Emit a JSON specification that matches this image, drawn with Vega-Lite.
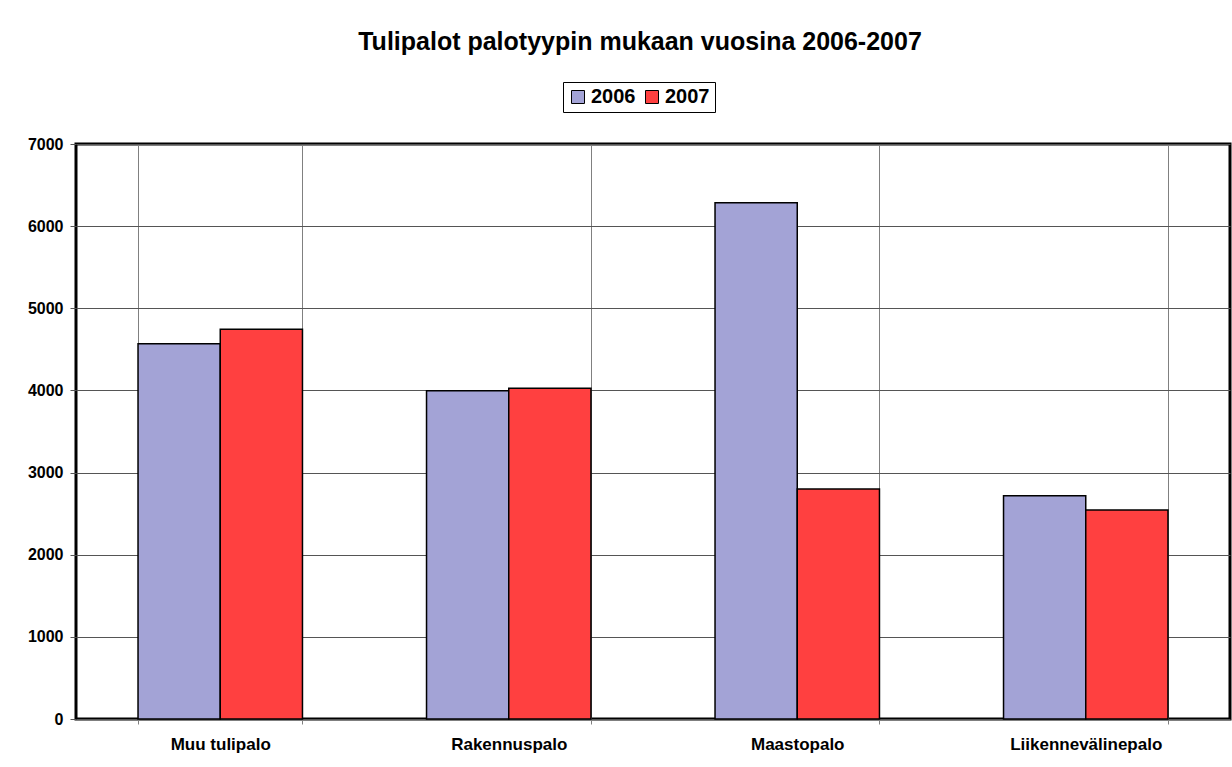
{
  "$schema": "https://vega.github.io/schema/vega-lite/v6.json",
  "autosize": "none",
  "width": 1154,
  "height": 575,
  "padding": {"left": 76, "top": 144, "right": 2, "bottom": 48},
  "background": "white",
  "title": {
    "text": "Tulipalot palotyypin mukaan vuosina 2006-2007",
    "font": "Liberation Sans",
    "fontSize": 25,
    "fontWeight": "bold",
    "color": "black",
    "anchor": "middle",
    "frame": "group",
    "dx": -13,
    "offset": 27
  },
  "data": {
    "values": [
      {"tyyppi": "Muu tulipalo", "vuosi": "2006", "maara": 4569},
      {"tyyppi": "Muu tulipalo", "vuosi": "2007", "maara": 4745},
      {"tyyppi": "Rakennuspalo", "vuosi": "2006", "maara": 3995},
      {"tyyppi": "Rakennuspalo", "vuosi": "2007", "maara": 4028},
      {"tyyppi": "Maastopalo", "vuosi": "2006", "maara": 6286},
      {"tyyppi": "Maastopalo", "vuosi": "2007", "maara": 2800},
      {"tyyppi": "Liikennevälinepalo", "vuosi": "2006", "maara": 2719},
      {"tyyppi": "Liikennevälinepalo", "vuosi": "2007", "maara": 2544}
    ]
  },
  "mark": {"type": "bar", "stroke": "black", "strokeWidth": 1.5},
  "encoding": {
    "x": {
      "field": "tyyppi",
      "type": "nominal",
      "sort": ["Muu tulipalo", "Rakennuspalo", "Maastopalo", "Liikennevälinepalo"],
      "scale": {"paddingInner": 0.43, "paddingOuter": 0.215},
      "axis": {
        "title": null,
        "labelAngle": 0,
        "labelFont": "Liberation Sans",
        "labelFontSize": 17,
        "labelFontWeight": "bold",
        "labelColor": "black",
        "labelPadding": 12,
        "tickBand": "extent",
        "grid": true,
        "gridColor": "#808080",
        "gridWidth": 1,
        "ticks": true,
        "tickColor": "#808080",
        "tickSize": 5,
        "domain": false
      }
    },
    "xOffset": {"field": "vuosi", "type": "nominal", "scale": {"paddingInner": 0, "paddingOuter": 0}},
    "y": {
      "field": "maara",
      "type": "quantitative",
      "scale": {"domain": [0, 7000], "nice": false},
      "axis": {
        "title": null,
        "format": "d",
        "values": [0, 1000, 2000, 3000, 4000, 5000, 6000, 7000],
        "labelFont": "Liberation Sans",
        "labelFontSize": 16,
        "labelFontWeight": "bold",
        "labelColor": "black",
        "labelPadding": 7,
        "grid": true,
        "gridColor": "#555555",
        "gridWidth": 1,
        "tickColor": "#555555",
        "tickSize": 6,
        "domain": false
      }
    },
    "color": {
      "field": "vuosi",
      "type": "nominal",
      "scale": {"domain": ["2006", "2007"], "range": ["#a3a3d6", "#ff4040"]},
      "legend": {
        "title": null,
        "orient": "none",
        "legendX": 487,
        "legendY": -62,
        "direction": "horizontal",
        "symbolType": "square",
        "symbolSize": 169,
        "symbolStrokeColor": "black",
        "symbolStrokeWidth": 1,
        "symbolOpacity": 1,
        "labelFont": "Liberation Sans",
        "labelFontSize": 20,
        "labelFontWeight": "bold",
        "labelColor": "black",
        "labelOffset": 3,
        "columnPadding": 6,
        "padding": 5,
        "strokeColor": "black"
      }
    }
  },
  "config": {
    "view": {"stroke": "black", "strokeWidth": 3}
  }
}
